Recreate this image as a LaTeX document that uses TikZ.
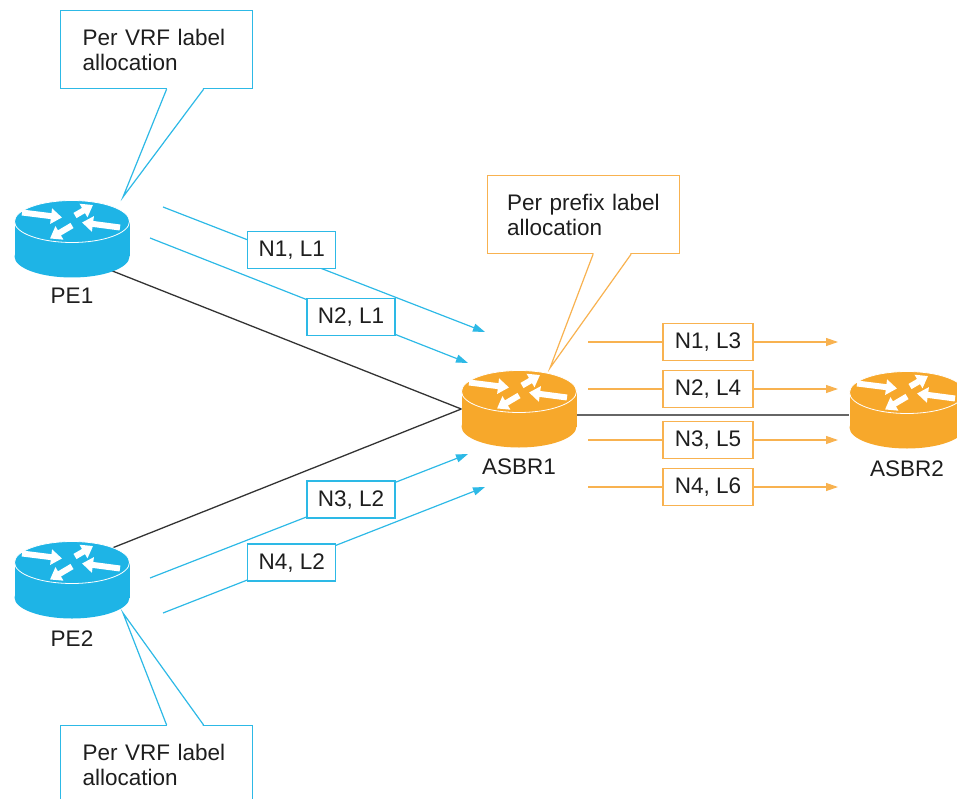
\documentclass[tikz,border=0pt]{standalone}
\usepackage{fontspec}
\setmainfont{Liberation Sans}
\usetikzlibrary{positioning,arrows.meta}
\definecolor{routerblue}{RGB}{30,180,230}
\definecolor{routerorange}{RGB}{247,168,43}
\definecolor{flowblue}{RGB}{45,185,230}
\definecolor{floworange}{RGB}{248,178,80}
\definecolor{txtgray}{RGB}{30,30,30}
\tikzset{
  pics/router/.style={code={
    \fill[#1] (-57.5,-17.5) rectangle (57.5,17.5);
    \fill[#1] (0,17.5) ellipse [x radius=57.5, y radius=21];
    \filldraw[fill=#1, draw=white, line width=0.8pt] (0,-17.5) ellipse [x radius=57.5, y radius=21];
    \draw[white, line width=6pt, -{Triangle[length=11pt,width=15pt]}] (-50,-26.5) -- (-10,-21.5);
    \draw[white, line width=6pt, -{Triangle[length=11pt,width=15pt]}] (48,-11.5) -- (10,-16.5);
    \draw[white, line width=6pt, -{Triangle[length=11pt,width=15pt]}] (3,-23.5) -- (21,-34);
    \draw[white, line width=6pt, -{Triangle[length=11pt,width=15pt]}] (0,-13.5) -- (-22,-0.5);
  }}
}
\begin{document}
\begin{tikzpicture}[x=1pt, y=-1pt,
    txt/.style={font=\fontsize{22.5}{25}\selectfont, text=txtgray},
    routerbox/.style={minimum width=115pt, minimum height=77pt, inner sep=0pt},
    rlabel/.style={txt, inner sep=0pt},
    link/.style={line width=1.3pt, draw=black!80},
    flowb/.style={draw=flowblue, line width=1.2pt, -{Triangle[length=12pt,width=8pt]}},
    flowo/.style={flowb, draw=floworange},
    lblb/.style={txt, draw=flowblue, fill=white, line width=1.3pt, minimum width=88pt, minimum height=37pt, inner sep=0pt},
    lblo/.style={lblb, draw=floworange, minimum width=90pt},
    callb/.style={txt, draw=flowblue, fill=white, line width=1.2pt, minimum width=192pt, minimum height=78pt,
      align=left, text width=148pt, inner xsep=22pt, inner ysep=0pt, anchor=north west},
    callo/.style={callb, draw=floworange, text width=153pt, inner xsep=19pt}]

  \useasboundingbox (0,0) rectangle (957,799);

  \node[routerbox] (pe1) at (72,239) {};
  \node[routerbox] (pe2) at (72,580) {};
  \node[routerbox] (asbr1) at (519,409) {};
  \node[routerbox] (asbr2) at (907,410) {};

  \draw[link] ([yshift=-16pt]pe1.center) -- (asbr1.west);
  \draw[link] ([yshift=16pt]pe2.center) -- (asbr1.west);
  \draw[link, draw=black!60] ([yshift=-6pt]asbr1.east) -- ([yshift=-5pt]asbr2.west);

  \pic at (pe1.center) {router=routerblue};
  \pic at (pe2.center) {router=routerblue};
  \pic at (asbr1.center) {router=routerorange};
  \pic at (asbr2.center) {router=routerorange};

  \node[rlabel, below=10pt of pe1] (pe1 name) {PE1};
  \node[rlabel, below=12pt of pe2] (pe2 name) {PE2};
  \node[rlabel, below=11pt of asbr1] (asbr1 name) {ASBR1};
  \node[rlabel, below=12pt of asbr2] (asbr2 name) {ASBR2};

  \coordinate (b1s) at (163,207);
  \coordinate (b1e) at (485,332);
  \coordinate (b2s) at (150,238);
  \coordinate (b2e) at (468,363);
  \coordinate (b3s) at (150,578);
  \coordinate (b3e) at (468,454);
  \coordinate (b4s) at (163,613);
  \coordinate (b4e) at (485,487);
  \draw[flowb] (b1s) -- node[lblb, pos=0.4, yshift=7pt] (n1l1) {N1, L1} (b1e);
  \draw[flowb] (b2s) -- node[lblb, pos=0.632] (n2l1) {N2, L1} (b2e);
  \draw[flowb] (b3s) -- node[lblb, pos=0.632] (n3l2) {N3, L2} (b3e);
  \draw[flowb] (b4s) -- node[lblb, pos=0.4] (n4l2) {N4, L2} (b4e);

  \coordinate (o1s) at (588,342);
  \coordinate (o1e) at (838,342);
  \coordinate (o2s) at (588,389);
  \coordinate (o2e) at (838,389);
  \coordinate (o3s) at (588,440);
  \coordinate (o3e) at (838,440);
  \coordinate (o4s) at (588,487);
  \coordinate (o4e) at (838,487);
  \draw[flowo] (o1s) -- node[lblo, pos=0.48] (n1l3) {N1, L3} (o1e);
  \draw[flowo] (o2s) -- node[lblo, pos=0.48] (n2l4) {N2, L4} (o2e);
  \draw[flowo] (o3s) -- node[lblo, pos=0.48] (n3l5) {N3, L5} (o3e);
  \draw[flowo] (o4s) -- node[lblo, pos=0.48] (n4l6) {N4, L6} (o4e);

  \node[callb] (vrf1) at (60,10) {Per VRF label\\allocation};
  \coordinate (vrf1 tip) at (123,197);
  \fill[white] ([xshift=10.6pt, yshift=1pt]vrf1.south) -- (vrf1 tip) -- ([xshift=46.4pt, yshift=1pt]vrf1.south) -- cycle;
  \draw[flowblue, line width=1.2pt] ([xshift=10pt]vrf1.south) -- (vrf1 tip) -- ([xshift=47pt]vrf1.south);

  \node[callb] (vrf2) at (60,725) {Per VRF label\\allocation};
  \coordinate (vrf2 tip) at (123,613);
  \fill[white] ([xshift=10.6pt, yshift=-1pt]vrf2.north) -- (vrf2 tip) -- ([xshift=46.4pt, yshift=-1pt]vrf2.north) -- cycle;
  \draw[flowblue, line width=1.2pt] ([xshift=10pt]vrf2.north) -- (vrf2 tip) -- ([xshift=47pt]vrf2.north);

  \node[callo] (pfx) at (487,175) {Per prefix label\\allocation};
  \coordinate (pfx tip) at (550,368);
  \fill[white] ([xshift=10.1pt, yshift=1pt]pfx.south) -- (pfx tip) -- ([xshift=46.9pt, yshift=1pt]pfx.south) -- cycle;
  \draw[floworange, line width=1.2pt] ([xshift=9.5pt]pfx.south) -- (pfx tip) -- ([xshift=47.5pt]pfx.south);
\end{tikzpicture}
\end{document}
